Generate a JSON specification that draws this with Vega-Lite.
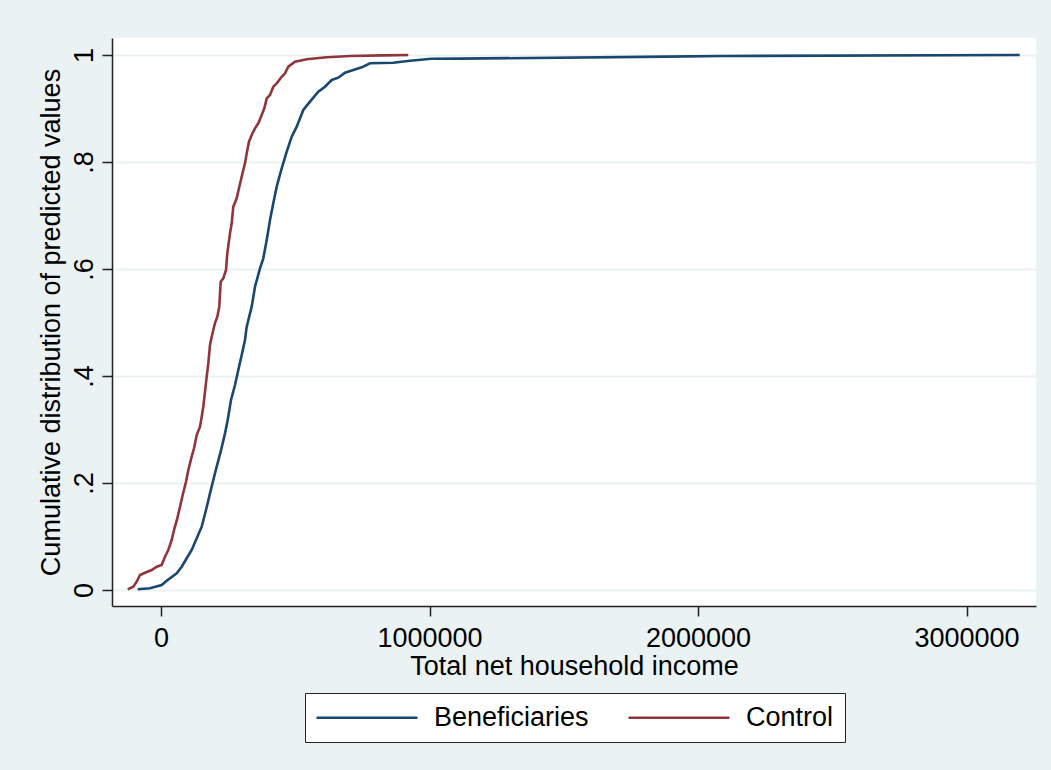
{
  "$schema": "https://vega.github.io/schema/vega-lite/v6.json",
  "autosize": "none",
  "width": 924,
  "height": 568,
  "padding": {"left": 112, "top": 38, "right": 15, "bottom": 164},
  "background": "#EAF2F3",
  "config": {
    "font": "Liberation Sans",
    "view": {"fill": "white", "stroke": null},
    "axis": {
      "labelFont": "Liberation Sans",
      "titleFont": "Liberation Sans",
      "labelFontSize": 27,
      "titleFontSize": 27,
      "titleFontWeight": "normal",
      "labelColor": "black",
      "titleColor": "black",
      "domainColor": "#222222",
      "domainWidth": 1.5,
      "tickColor": "#222222",
      "tickWidth": 1.5,
      "tickSize": 10,
      "gridColor": "#EAF2F3",
      "gridWidth": 2,
      "gridOpacity": 1
    },
    "legend": {
      "labelFont": "Liberation Sans",
      "labelFontSize": 27,
      "labelColor": "black"
    }
  },
  "data": {
    "values": [
      {"group": "Beneficiaries", "income": -86800, "cdf": 0.0013},
      {"group": "Beneficiaries", "income": -41000, "cdf": 0.0032},
      {"group": "Beneficiaries", "income": 2600, "cdf": 0.0093},
      {"group": "Beneficiaries", "income": 21200, "cdf": 0.0174},
      {"group": "Beneficiaries", "income": 58500, "cdf": 0.0312},
      {"group": "Beneficiaries", "income": 77100, "cdf": 0.0436},
      {"group": "Beneficiaries", "income": 95700, "cdf": 0.0593},
      {"group": "Beneficiaries", "income": 114300, "cdf": 0.0748},
      {"group": "Beneficiaries", "income": 133000, "cdf": 0.0966},
      {"group": "Beneficiaries", "income": 151600, "cdf": 0.1184},
      {"group": "Beneficiaries", "income": 167600, "cdf": 0.1495},
      {"group": "Beneficiaries", "income": 182500, "cdf": 0.1807},
      {"group": "Beneficiaries", "income": 194800, "cdf": 0.2056},
      {"group": "Beneficiaries", "income": 207400, "cdf": 0.2305},
      {"group": "Beneficiaries", "income": 222300, "cdf": 0.2586},
      {"group": "Beneficiaries", "income": 238400, "cdf": 0.2928},
      {"group": "Beneficiaries", "income": 248400, "cdf": 0.3178},
      {"group": "Beneficiaries", "income": 260700, "cdf": 0.3551},
      {"group": "Beneficiaries", "income": 275600, "cdf": 0.3832},
      {"group": "Beneficiaries", "income": 287900, "cdf": 0.4112},
      {"group": "Beneficiaries", "income": 300600, "cdf": 0.4393},
      {"group": "Beneficiaries", "income": 312800, "cdf": 0.4673},
      {"group": "Beneficiaries", "income": 319200, "cdf": 0.4922},
      {"group": "Beneficiaries", "income": 337800, "cdf": 0.5296},
      {"group": "Beneficiaries", "income": 350100, "cdf": 0.567},
      {"group": "Beneficiaries", "income": 368700, "cdf": 0.6012},
      {"group": "Beneficiaries", "income": 381000, "cdf": 0.62},
      {"group": "Beneficiaries", "income": 393700, "cdf": 0.6542},
      {"group": "Beneficiaries", "income": 406000, "cdf": 0.6916},
      {"group": "Beneficiaries", "income": 418200, "cdf": 0.7227},
      {"group": "Beneficiaries", "income": 430900, "cdf": 0.7539},
      {"group": "Beneficiaries", "income": 449500, "cdf": 0.7882},
      {"group": "Beneficiaries", "income": 468200, "cdf": 0.8193},
      {"group": "Beneficiaries", "income": 486800, "cdf": 0.8474},
      {"group": "Beneficiaries", "income": 505400, "cdf": 0.866},
      {"group": "Beneficiaries", "income": 530000, "cdf": 0.8972},
      {"group": "Beneficiaries", "income": 554900, "cdf": 0.9128},
      {"group": "Beneficiaries", "income": 585800, "cdf": 0.9314},
      {"group": "Beneficiaries", "income": 610800, "cdf": 0.9408},
      {"group": "Beneficiaries", "income": 635800, "cdf": 0.9533},
      {"group": "Beneficiaries", "income": 660300, "cdf": 0.9576},
      {"group": "Beneficiaries", "income": 685300, "cdf": 0.9669},
      {"group": "Beneficiaries", "income": 716200, "cdf": 0.972},
      {"group": "Beneficiaries", "income": 747500, "cdf": 0.977},
      {"group": "Beneficiaries", "income": 778400, "cdf": 0.9845},
      {"group": "Beneficiaries", "income": 865200, "cdf": 0.9856},
      {"group": "Beneficiaries", "income": 927400, "cdf": 0.9893},
      {"group": "Beneficiaries", "income": 1006700, "cdf": 0.9931},
      {"group": "Beneficiaries", "income": 1113600, "cdf": 0.9932},
      {"group": "Beneficiaries", "income": 1883400, "cdf": 0.9969},
      {"group": "Beneficiaries", "income": 2089400, "cdf": 0.9981},
      {"group": "Beneficiaries", "income": 3198100, "cdf": 1.0},
      {"group": "Control", "income": -124000, "cdf": 0.0013},
      {"group": "Control", "income": -103000, "cdf": 0.0062},
      {"group": "Control", "income": -90500, "cdf": 0.0155},
      {"group": "Control", "income": -78200, "cdf": 0.028},
      {"group": "Control", "income": -59600, "cdf": 0.0323},
      {"group": "Control", "income": -34600, "cdf": 0.0374},
      {"group": "Control", "income": -16000, "cdf": 0.0436},
      {"group": "Control", "income": 2600, "cdf": 0.0467},
      {"group": "Control", "income": 14900, "cdf": 0.0622},
      {"group": "Control", "income": 27200, "cdf": 0.0748},
      {"group": "Control", "income": 39900, "cdf": 0.0935},
      {"group": "Control", "income": 48400, "cdf": 0.1121},
      {"group": "Control", "income": 60700, "cdf": 0.134},
      {"group": "Control", "income": 70800, "cdf": 0.1557},
      {"group": "Control", "income": 80800, "cdf": 0.1776},
      {"group": "Control", "income": 93100, "cdf": 0.2024},
      {"group": "Control", "income": 101700, "cdf": 0.2243},
      {"group": "Control", "income": 114300, "cdf": 0.2492},
      {"group": "Control", "income": 122900, "cdf": 0.2649},
      {"group": "Control", "income": 133000, "cdf": 0.2897},
      {"group": "Control", "income": 145300, "cdf": 0.3052},
      {"group": "Control", "income": 151600, "cdf": 0.3239},
      {"group": "Control", "income": 157500, "cdf": 0.3426},
      {"group": "Control", "income": 163900, "cdf": 0.3707},
      {"group": "Control", "income": 170200, "cdf": 0.3987},
      {"group": "Control", "income": 176200, "cdf": 0.4237},
      {"group": "Control", "income": 182500, "cdf": 0.458},
      {"group": "Control", "income": 188800, "cdf": 0.4735},
      {"group": "Control", "income": 201100, "cdf": 0.499},
      {"group": "Control", "income": 209700, "cdf": 0.5109},
      {"group": "Control", "income": 217100, "cdf": 0.5296},
      {"group": "Control", "income": 222300, "cdf": 0.5763},
      {"group": "Control", "income": 232000, "cdf": 0.5826},
      {"group": "Control", "income": 242100, "cdf": 0.5981},
      {"group": "Control", "income": 246900, "cdf": 0.6293},
      {"group": "Control", "income": 257000, "cdf": 0.6667},
      {"group": "Control", "income": 263300, "cdf": 0.6854},
      {"group": "Control", "income": 269300, "cdf": 0.7165},
      {"group": "Control", "income": 281900, "cdf": 0.7321},
      {"group": "Control", "income": 291600, "cdf": 0.7539},
      {"group": "Control", "income": 306500, "cdf": 0.785},
      {"group": "Control", "income": 312800, "cdf": 0.7975},
      {"group": "Control", "income": 319200, "cdf": 0.8162},
      {"group": "Control", "income": 327700, "cdf": 0.838},
      {"group": "Control", "income": 337800, "cdf": 0.8505},
      {"group": "Control", "income": 350100, "cdf": 0.863},
      {"group": "Control", "income": 362400, "cdf": 0.8723},
      {"group": "Control", "income": 375000, "cdf": 0.8879},
      {"group": "Control", "income": 384700, "cdf": 0.9004},
      {"group": "Control", "income": 393700, "cdf": 0.919},
      {"group": "Control", "income": 406000, "cdf": 0.9252},
      {"group": "Control", "income": 418200, "cdf": 0.9408},
      {"group": "Control", "income": 430900, "cdf": 0.9471},
      {"group": "Control", "income": 449500, "cdf": 0.9594},
      {"group": "Control", "income": 461800, "cdf": 0.9658},
      {"group": "Control", "income": 474100, "cdf": 0.9781},
      {"group": "Control", "income": 499100, "cdf": 0.9875},
      {"group": "Control", "income": 542600, "cdf": 0.992},
      {"group": "Control", "income": 617100, "cdf": 0.9957},
      {"group": "Control", "income": 703900, "cdf": 0.9981},
      {"group": "Control", "income": 827900, "cdf": 0.9994},
      {"group": "Control", "income": 921000, "cdf": 1.0}
    ]
  },
  "mark": {"type": "line", "strokeWidth": 2.6, "interpolate": "linear"},
  "encoding": {
    "x": {
      "field": "income",
      "type": "quantitative",
      "title": "Total net household income",
      "scale": {"domain": [-182500, 3258800], "nice": false, "zero": false},
      "axis": {
        "values": [0, 1000000, 2000000, 3000000],
        "format": "d",
        "grid": false,
        "labelPadding": 9,
        "titlePadding": 2,
        "labelFlush": false,
        "labelOverlap": false
      }
    },
    "y": {
      "field": "cdf",
      "type": "quantitative",
      "title": "Cumulative distribution of predicted values",
      "scale": {"domain": [-0.0299, 1.0318], "nice": false, "zero": false},
      "axis": {
        "values": [0, 0.2, 0.4, 0.6, 0.8, 1],
        "labelExpr": "datum.value == 0 ? '0' : datum.value == 1 ? '1' : '.' + format(datum.value * 10, 'd')",
        "grid": true,
        "labelAngle": 270,
        "labelAlign": "center",
        "labelBaseline": "alphabetic",
        "labelPadding": 10,
        "titlePadding": 5,
        "labelFlush": false,
        "labelOverlap": false
      }
    },
    "color": {
      "field": "group",
      "type": "nominal",
      "title": null,
      "scale": {"domain": ["Beneficiaries", "Control"], "range": ["#1A476F", "#90353B"]},
      "legend": {
        "orient": "none",
        "direction": "horizontal",
        "legendX": 193,
        "legendY": 655,
        "symbolType": "M-1.3,0H8.8",
        "symbolSize": 400,
        "symbolStrokeWidth": 2.6,
        "labelOffset": 91,
        "columnPadding": 34,
        "padding": 11,
        "fillColor": "white",
        "strokeColor": "#222222"
      }
    }
  }
}
